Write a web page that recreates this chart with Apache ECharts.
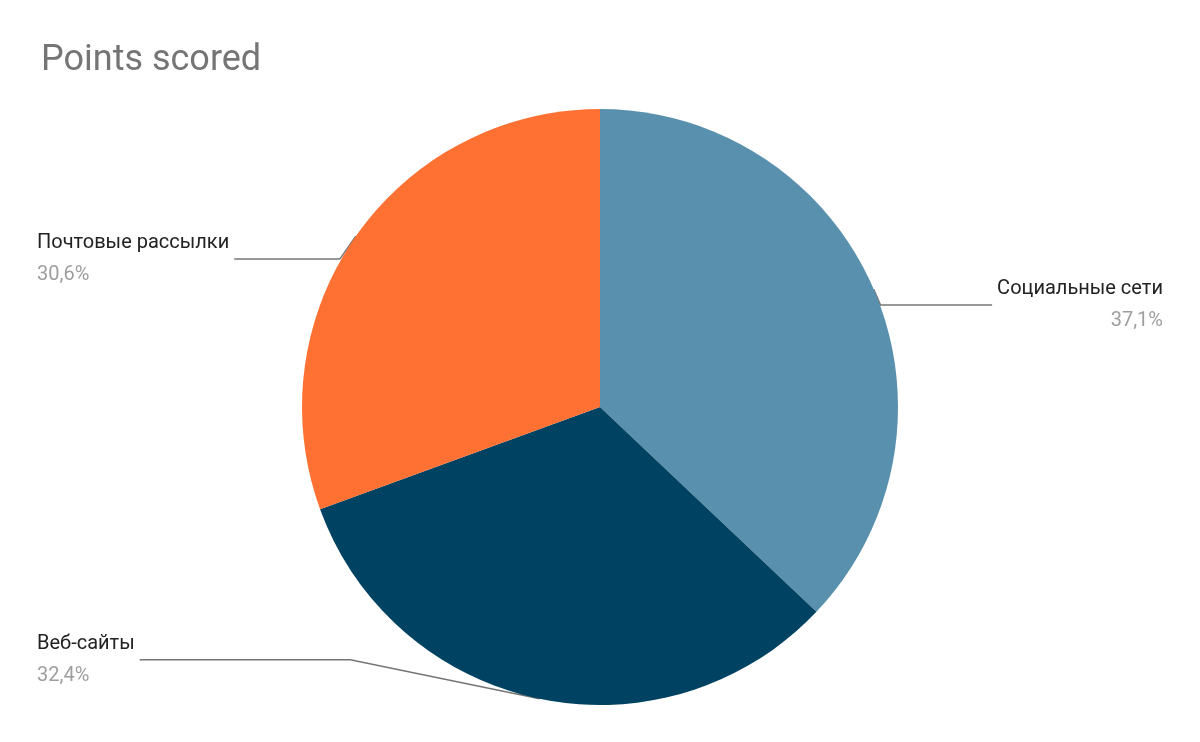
<!DOCTYPE html>
<html><head><meta charset="utf-8">
<script src="https://cdn.jsdelivr.net/npm/echarts@6/dist/echarts.min.js"></script>
<style>html,body{margin:0;padding:0;background:#fff}#c{width:1200px;height:742px}</style>
</head><body><div id="c"></div>
<script>
const categories = ['Социальные сети', 'Веб-сайты', 'Почтовые рассылки'];
const values = [37.1, 32.4, 30.6];
const colors = ['#5990ae', '#004261', '#ff7033'];
const chart = echarts.init(document.getElementById('c'));
chart.setOption({
  backgroundColor: '#fff',
  title: { text: 'Points scored', left: 36, top: 38, textStyle: { fontFamily: 'Roboto', fontSize: 36, fontWeight: 'normal', color: '#757575' } },
  series: [{
    type: 'pie', center: [600, 407], radius: 298, startAngle: 90, clockwise: true,
    data: categories.map((n, i) => ({ name: n, value: values[i], itemStyle: { color: colors[i] } })),
    label: {
      show: true, alignTo: 'edge', edgeDistance: 37, fontFamily: 'Roboto',
      formatter: d => '{n|' + d.name + '}\n{p|' + d.percent.toFixed(1).replace('.', ',') + '%}',
      rich: { n: { fontSize: 20, color: '#222', lineHeight: 32, fontFamily: 'Roboto' }, p: { fontSize: 20, color: '#9e9e9e', lineHeight: 32, fontFamily: 'Roboto' } }
    },
    labelLine: { show: true, length: -40, length2: 80, lineStyle: { color: '#757575', width: 1.5 } },
    emphasis: { disabled: true }
  }]
});
</script></body></html>
